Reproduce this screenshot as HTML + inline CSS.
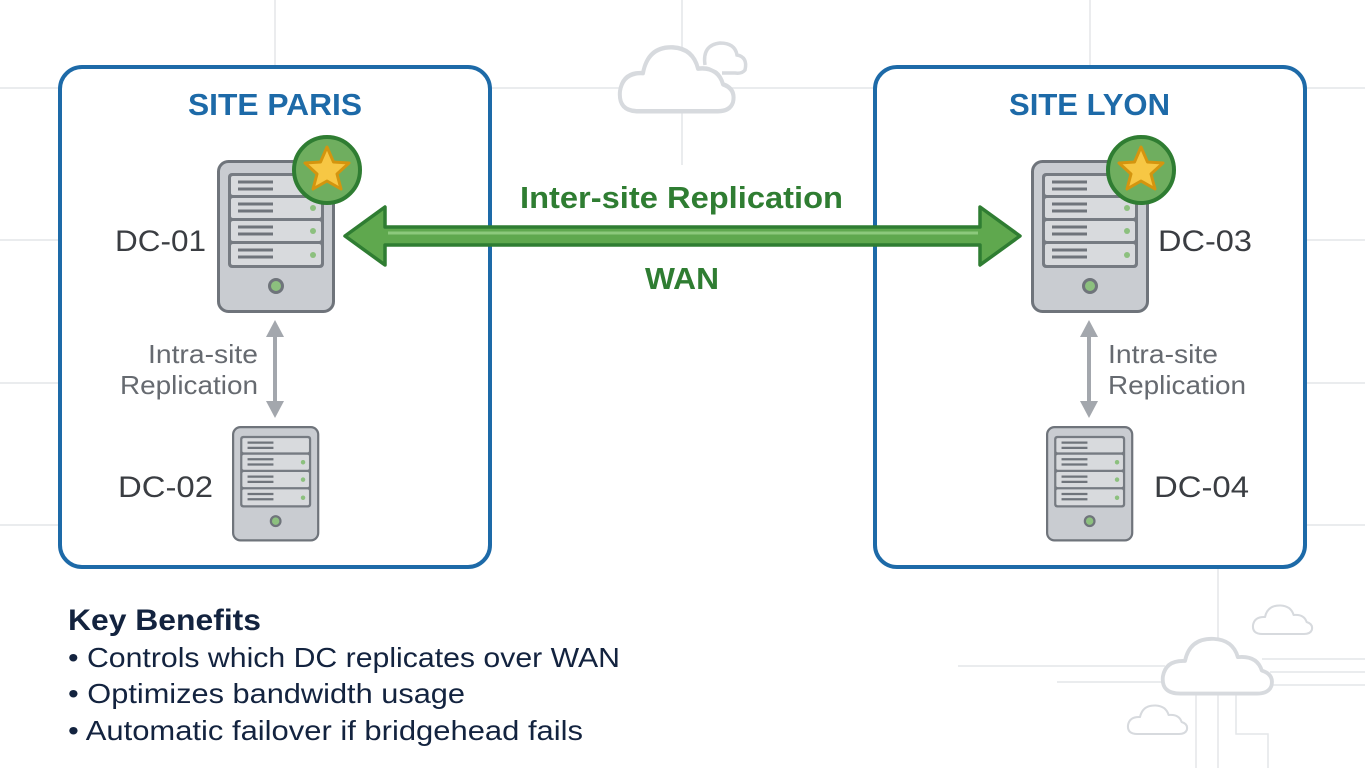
<!DOCTYPE html>
<html><head><meta charset="utf-8"><style>
html,body{margin:0;padding:0;background:#fff;}
svg{display:block;font-family:"Liberation Sans",sans-serif;}
</style></head><body>
<svg width="1365" height="768" viewBox="0 0 1365 768" xmlns="http://www.w3.org/2000/svg">
<defs>
<g id="srv">
<rect x="1.5" y="1.5" width="115" height="150" rx="10" fill="#c9ccd1" stroke="#6f747b" stroke-width="3"/>
<rect x="11" y="13" width="96" height="95" rx="4" fill="#767b82"/>
<g fill="#d8dadd">
<rect x="14" y="16" width="90" height="19" rx="2"/>
<rect x="14" y="38" width="90" height="20" rx="2"/>
<rect x="14" y="61" width="90" height="20" rx="2"/>
<rect x="14" y="84" width="90" height="21" rx="2"/>
</g>
<g stroke="#6f747b" stroke-width="3">
<line x1="21" y1="22" x2="56" y2="22"/><line x1="21" y1="29" x2="56" y2="29"/>
<line x1="21" y1="44" x2="56" y2="44"/><line x1="21" y1="51" x2="56" y2="51"/>
<line x1="21" y1="67" x2="56" y2="67"/><line x1="21" y1="74" x2="56" y2="74"/>
<line x1="21" y1="90" x2="56" y2="90"/><line x1="21" y1="97" x2="56" y2="97"/>
</g>
<g fill="#8cc07e"><circle cx="96" cy="48" r="3"/><circle cx="96" cy="71" r="3"/><circle cx="96" cy="95" r="3"/></g>
<circle cx="59" cy="126" r="6.5" fill="#8cc07e" stroke="#6f747b" stroke-width="3"/>
</g>
<g id="star">
<circle cx="0" cy="0" r="33" fill="#6fae5f" stroke="#2f7d32" stroke-width="4"/>
<polygon points="0,-23 6.5,-8 22,-7 10,4 14,19 0,11 -14,19 -10,4 -22,-7 -6.5,-8" fill="#f7c744" stroke="#d4950f" stroke-width="3" stroke-linejoin="round"/>
</g>
<g id="cloud">
<path d="M20,60 Q0,60 2,42 Q5,25 25,26 Q30,2 55,3 Q75,4 80,22 Q100,20 105,36 Q118,40 115,52 Q112,60 100,60 Z" fill="#fff" stroke="#d7dade" stroke-width="4" stroke-linejoin="round"/>
</g>
</defs>
<g stroke="#e4e6e9" stroke-width="1.5" fill="none">
<line x1="275" y1="0" x2="275" y2="66"/>
<line x1="682" y1="0" x2="682" y2="165"/>
<line x1="1090" y1="0" x2="1090" y2="66"/>
<line x1="0" y1="88" x2="59" y2="88"/>
<line x1="491" y1="88" x2="874" y2="88"/>
<line x1="1306" y1="88" x2="1365" y2="88"/>
<line x1="0" y1="240" x2="59" y2="240"/>
<line x1="1306" y1="240" x2="1365" y2="240"/>
<line x1="0" y1="383" x2="59" y2="383"/>
<line x1="1306" y1="383" x2="1365" y2="383"/>
<line x1="0" y1="525" x2="59" y2="525"/>
<line x1="1306" y1="525" x2="1365" y2="525"/>
<line x1="1218" y1="568" x2="1218" y2="640"/>
<line x1="958" y1="666" x2="1165" y2="666"/>
<line x1="1057" y1="682" x2="1165" y2="682"/>
<line x1="1262" y1="659" x2="1365" y2="659"/>
<line x1="1270" y1="672" x2="1365" y2="672"/>
<line x1="1262" y1="685" x2="1365" y2="685"/>
<line x1="1196" y1="694" x2="1196" y2="768"/>
<line x1="1218" y1="694" x2="1218" y2="768"/>
<path d="M1236,694 V734 H1268 V768"/>
</g>
<use href="#cloud" transform="translate(618,44) scale(1.0,1.12)"/>
<path d="M705,65 Q702,45 720,43 Q735,43 737,55 Q748,57 745,70 Q742,74 735,73 L722,73" fill="#fff" stroke="#d7dade" stroke-width="3.5"/>
<use href="#cloud" transform="translate(1161,636) scale(0.96,0.96)"/>
<use href="#cloud" transform="translate(1252,604) scale(0.52,0.5)"/>
<use href="#cloud" transform="translate(1127,704) scale(0.52,0.5)"/>
<rect x="60" y="67" width="430" height="500" rx="22" fill="#fff" stroke="#1d6aa8" stroke-width="4"/>
<rect x="875" y="67" width="430" height="500" rx="22" fill="#fff" stroke="#1d6aa8" stroke-width="4"/>
<text x="188" y="115" font-size="31" font-weight="bold" fill="#1d6aa8" textLength="174" lengthAdjust="spacingAndGlyphs">SITE PARIS</text>
<text x="1009" y="115" font-size="31" font-weight="bold" fill="#1d6aa8" textLength="161" lengthAdjust="spacingAndGlyphs">SITE LYON</text>
<use href="#srv" transform="translate(217,160)"/>
<use href="#srv" transform="translate(232,426) scale(0.74,0.755)"/>
<use href="#srv" transform="translate(1031,160)"/>
<use href="#srv" transform="translate(1046,426) scale(0.74,0.755)"/>
<use href="#star" transform="translate(327,170)"/>
<use href="#star" transform="translate(1141,170)"/>
<g font-size="30" fill="#3a3d42">
<text x="115" y="251" textLength="91" lengthAdjust="spacingAndGlyphs">DC-01</text>
<text x="118" y="497" textLength="95" lengthAdjust="spacingAndGlyphs">DC-02</text>
<text x="1158" y="251" textLength="94" lengthAdjust="spacingAndGlyphs">DC-03</text>
<text x="1154" y="497" textLength="95" lengthAdjust="spacingAndGlyphs">DC-04</text>
</g>
<g fill="#a3a7ad" stroke="#a3a7ad">
<line x1="275" y1="335" x2="275" y2="405" stroke-width="4"/>
<polygon points="275,320 266,337 284,337" stroke="none"/>
<polygon points="275,418 266,401 284,401" stroke="none"/>
<line x1="1089" y1="335" x2="1089" y2="405" stroke-width="4"/>
<polygon points="1089,320 1080,337 1098,337" stroke="none"/>
<polygon points="1089,418 1080,401 1098,401" stroke="none"/>
</g>
<g font-size="26" fill="#666a70">
<text x="148" y="363" textLength="110" lengthAdjust="spacingAndGlyphs">Intra-site</text>
<text x="120" y="394" textLength="138" lengthAdjust="spacingAndGlyphs">Replication</text>
<text x="1108" y="363" textLength="110" lengthAdjust="spacingAndGlyphs">Intra-site</text>
<text x="1108" y="394" textLength="138" lengthAdjust="spacingAndGlyphs">Replication</text>
</g>
<polygon points="345,236 385,207 385,227 980,227 980,207 1020,236 980,265 980,245 385,245 385,265" fill="#5fa84e" stroke="#2f7d32" stroke-width="3.5" stroke-linejoin="round"/>
<line x1="388" y1="233" x2="978" y2="233" stroke="#8cc97c" stroke-width="3"/>
<text x="520" y="208" font-size="31" font-weight="bold" fill="#2f7d32" textLength="323" lengthAdjust="spacingAndGlyphs">Inter-site Replication</text>
<text x="645" y="289" font-size="31" font-weight="bold" fill="#2f7d32" textLength="74" lengthAdjust="spacingAndGlyphs">WAN</text>
<text x="68" y="630" font-size="30" font-weight="bold" fill="#13233f" textLength="193" lengthAdjust="spacingAndGlyphs">Key Benefits</text>
<g font-size="28" fill="#13233f">
<text x="68" y="667" textLength="552" lengthAdjust="spacingAndGlyphs">• Controls which DC replicates over WAN</text>
<text x="68" y="703" textLength="397" lengthAdjust="spacingAndGlyphs">• Optimizes bandwidth usage</text>
<text x="68" y="740" textLength="515" lengthAdjust="spacingAndGlyphs">• Automatic failover if bridgehead fails</text>
</g>
</svg>
</body></html>
